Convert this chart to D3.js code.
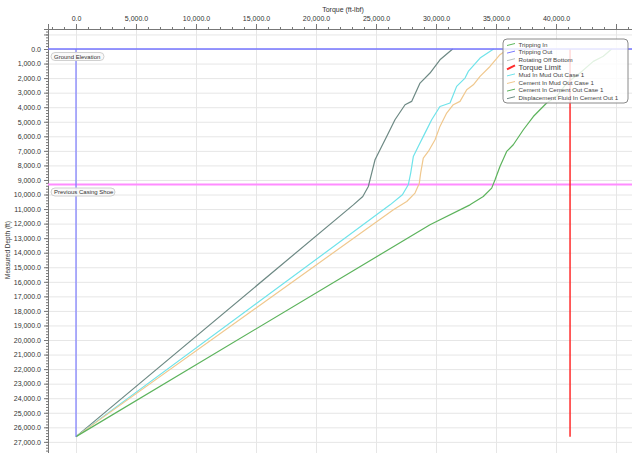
<!DOCTYPE html>
<html>
<head>
<meta charset="utf-8">
<script src="https://cdn.jsdelivr.net/npm/d3@7"></script>
<style>
  body { margin: 0; background: #fff; }
  svg { display: block; font-family: 'Liberation Sans', Arial, sans-serif; }
</style>
</head>
<body>
<svg width="632" height="453"></svg>
<script>
// values (depth in ft, torque in ft-lbf)
let dispDepth = [0, 740, 1650, 2340, 3600, 3830, 4860, 6010, 6700, 7610, 8530, 9450, 10140, 10710, 26640]
let dispTorque = [31390, 30330, 29500, 28670, 27970, 27420, 26580, 25890, 25470, 24920, 24640, 24360, 23900, 23110, 0]

let mudDepth = [0, 620, 1540, 2000, 2570, 3710, 3950, 4860, 5780, 6700, 7390, 8530, 9330, 10020, 10710, 26640]
let mudTorque = [34800, 33670, 32690, 32420, 31720, 31170, 30330, 29640, 29080, 28520, 28110, 27890, 27690, 27200, 26170, 0]

let cemMudDepth = [0, 390, 1200, 1880, 2460, 2800, 3600, 3830, 4400, 5320, 6240, 7040, 7500, 8530, 9220, 9900, 10480, 11050, 26640]
let cemMudTorque = [36000, 35330, 34500, 33670, 33110, 32560, 32000, 31440, 30890, 30330, 29920, 29360, 28940, 28720, 28610, 28250, 27560, 26450, 0]

let cemCemDepth = [0, 500, 850, 1650, 2340, 3260, 3710, 4640, 5550, 6580, 7040, 8070, 8990, 9560, 10140, 10710, 12080, 26640]
let cemCemTorque = [44640, 43940, 43110, 42000, 40890, 40060, 39220, 38110, 37280, 36440, 35890, 35330, 34920, 34640, 33940, 32830, 29500, 0]

let tripOutDepth = [0, 26640]
let tripOutTorque = [0, 0]

let torqueLimit = 41170
let limitDepth = [0, 26640]
let groundElevation = 0
let casingShoe = 9312

let legendNames = ['Tripping In', 'Tripping Out', 'Rotating Off Bottom', 'Torque Limit',
  'Mud In Mud Out Case 1', 'Cement In Mud Out Case 1', 'Cement In Cement Out Case 1',
  'Displacement Fluid In Cement Out 1']
let legendColors = ['#5cb85c', '#7b7bff', '#b9c2bf', '#ff2a2a', '#6fe3ea', '#f0c88e', '#5cb35c', '#6d8984']

let xMajor = d3.range(0, 45001, 5000)
let yMajor = d3.range(-1000, 27001, 1000)

let width = 632
let height = 453
let margin = { top: 29, left: 48, right: 0, bottom: 0 }

let xScale = d3.scaleLinear()
  .domain([-2333, 46333])
  .range([margin.left, width - margin.right])
let yScale = d3.scaleLinear()
  .domain([-1375, 27765])
  .range([margin.top, height - margin.bottom])

let svg = d3.select('svg')
let fmt = d3.format(',.1f')

// grid
svg.append('g').selectAll('line.h')
  .data(yMajor).enter().append('line')
  .attr('x1', margin.left).attr('x2', width)
  .attr('y1', d => yScale(d) + 0.5).attr('y2', d => yScale(d) + 0.5)
  .attr('stroke', '#e6e6e6')
svg.append('g').selectAll('line.v')
  .data(xMajor).enter().append('line')
  .attr('y1', margin.top).attr('y2', height)
  .attr('x1', d => xScale(d) + 0.5).attr('x2', d => xScale(d) + 0.5)
  .attr('stroke', '#e6e6e6')

// top axis
let xAxis = d3.axisTop(xScale).tickValues(xMajor).tickSize(5)
  .tickFormat(d => d < 45000 ? fmt(d) : '')
svg.append('g')
  .attr('transform', 'translate(' + [0, margin.top] + ')')
  .call(xAxis)
svg.append('g')
  .attr('transform', 'translate(' + [0, margin.top] + ')')
  .call(d3.axisTop(xScale).tickValues(d3.range(-2000, 46001, 1000)).tickSize(2).tickFormat(''))
  .call(g => g.select('.domain').remove())

// left axis
let yAxis = d3.axisLeft(yScale).tickValues(yMajor).tickSize(4)
  .tickFormat(d => d >= 0 ? fmt(d) : '')
svg.append('g')
  .attr('transform', 'translate(' + [margin.left, 0] + ')')
  .call(yAxis)
svg.append('g')
  .attr('transform', 'translate(' + [margin.left, 0] + ')')
  .call(d3.axisLeft(yScale).tickValues(d3.range(-1200, 27700, 200)).tickSize(2).tickFormat(''))
  .call(g => g.select('.domain').remove())

svg.selectAll('.tick line').attr('stroke', '#777')
svg.selectAll('.domain').attr('stroke', '#777')
svg.selectAll('.tick text').attr('font-size', 7).attr('fill', '#333')
  .attr('font-family', "'Liberation Sans', Arial, sans-serif")

// axis titles
svg.append('text')
  .attr('x', 343).attr('y', 12)
  .attr('text-anchor', 'middle')
  .attr('font-size', 7).attr('fill', '#333')
  .text('Torque (ft-lbf)')
svg.append('text')
  .attr('transform', 'translate(10,250) rotate(-90)')
  .attr('text-anchor', 'middle')
  .attr('font-size', 6.5).attr('fill', '#333')
  .text('Measured Depth (ft)')

// reference lines
svg.append('line')
  .attr('x1', margin.left).attr('x2', width)
  .attr('y1', yScale(casingShoe)).attr('y2', yScale(casingShoe))
  .attr('stroke', '#ff8cff').attr('stroke-width', 2)

let line = d3.line()
  .x(d => xScale(d[0]))
  .y(d => yScale(d[1]))

let series = [
  { t: dispTorque, d: dispDepth, c: legendColors[7] },
  { t: mudTorque, d: mudDepth, c: legendColors[4] },
  { t: cemMudTorque, d: cemMudDepth, c: legendColors[5] },
  { t: cemCemTorque, d: cemCemDepth, c: legendColors[6] }
]
svg.append('g').selectAll('path')
  .data(series).enter().append('path')
  .attr('d', s => line(s.t.map((v, i) => [v, s.d[i]])))
  .attr('fill', 'none')
  .attr('stroke', s => s.c)
  .attr('stroke-width', 1.2)
  .attr('stroke-linejoin', 'round')

// torque limit
svg.append('line')
  .attr('x1', xScale(torqueLimit)).attr('x2', xScale(torqueLimit))
  .attr('y1', yScale(limitDepth[0])).attr('y2', yScale(limitDepth[1]))
  .attr('stroke', legendColors[3]).attr('stroke-width', 1.5)

// tripping out
svg.append('path')
  .attr('d', line(tripOutTorque.map((v, i) => [v, tripOutDepth[i]])))
  .attr('fill', 'none')
  .attr('stroke', legendColors[1]).attr('stroke-width', 1.2)

// ground elevation
svg.append('line')
  .attr('x1', margin.left).attr('x2', width)
  .attr('y1', yScale(groundElevation)).attr('y2', yScale(groundElevation))
  .attr('stroke', '#7575ff').attr('stroke-width', 1.5)

// annotation tags
let tags = [
  { text: 'Ground Elevation', depth: groundElevation, w: 53 },
  { text: 'Previous Casing Shoe', depth: casingShoe, w: 64 }
]
let tag = svg.append('g').selectAll('g')
  .data(tags).enter().append('g')
  .attr('transform', d => 'translate(' + [51, yScale(d.depth) + 3.5] + ')')
tag.append('rect')
  .attr('width', d => d.w).attr('height', 8).attr('rx', 4)
  .attr('fill', '#fafafa').attr('fill-opacity', 0.9).attr('stroke', '#d0d0d0')
tag.append('text')
  .attr('x', 3).attr('y', 6)
  .attr('font-size', 6).attr('fill', '#333')
  .text(d => d.text)

// legend
let legend = svg.append('g').attr('transform', 'translate(503,39)')
legend.append('rect')
  .attr('width', 125).attr('height', 64).attr('rx', 4)
  .attr('fill', '#fff').attr('fill-opacity', 0.82)
  .attr('stroke', '#8a8a8a')
let item = legend.selectAll('g.item')
  .data(legendNames).enter().append('g')
  .attr('transform', (d, i) => 'translate(' + [4, 5.5 + i * 7.6] + ')')
item.append('line')
  .attr('x1', 0).attr('x2', 8)
  .attr('y1', (d, i) => i === 3 ? 2 : 1).attr('y2', (d, i) => i === 3 ? -2 : -1)
  .attr('stroke', (d, i) => legendColors[i])
  .attr('stroke-width', (d, i) => i === 3 ? 2 : 1)
item.append('text')
  .attr('x', 11.5).attr('y', 2.3)
  .attr('font-size', (d, i) => i === 3 ? 7.8 : 6.2)
  .attr('fill', '#444')
  .text(d => d)
</script>
</body>
</html>
